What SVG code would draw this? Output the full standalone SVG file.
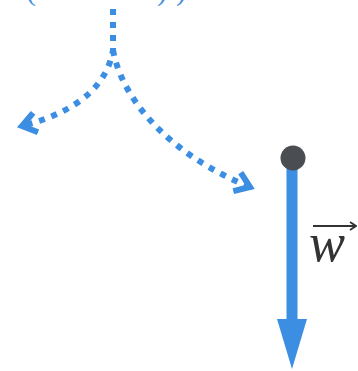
<svg xmlns="http://www.w3.org/2000/svg" width="358" height="371" viewBox="0 0 358 371">
  <defs>
    <style>
      .dots { fill: none; stroke: #3b8ee2; stroke-width: 6; stroke-dasharray: 6 7; }
      .paren { font-family: "Liberation Serif", serif; font-size: 30px; fill: #4a90d9; }
      .label { font-family: "Liberation Serif", serif; font-style: italic; font-size: 54px; fill: #333333; }
    </style>
    <marker id="chev" viewBox="0 0 24 24" refX="19" refY="12" markerWidth="24" markerHeight="24" markerUnits="userSpaceOnUse" orient="auto">
      <path d="M5,2 L19,12 L5,22" fill="none" stroke="#3b8ee2" stroke-width="6" stroke-linejoin="miter"/>
    </marker>
    <marker id="tiny" viewBox="0 0 10 10" refX="9" refY="5" markerWidth="10" markerHeight="10" markerUnits="userSpaceOnUse" orient="auto">
      <path d="M3,1 L9,5 L3,9" fill="none" stroke="#333333" stroke-width="1.8"/>
    </marker>
  </defs>
  <rect width="358" height="371" fill="#ffffff"/>
  <g id="top-label">
    <text class="paren" x="26" y="0">(</text>
    <text class="paren" x="157" y="0">)</text>
    <text class="paren" x="176" y="0">)</text>
  </g>
  <g id="connectors">
    <path class="dots" d="M113,9 L113,50 C108,80 85,110 22,126" marker-end="url(#chev)"/>
    <path class="dots" d="M113,50 C122,100 170,155 250,187" marker-end="url(#chev)"/>
  </g>
  <g id="weight-vector">
    <line x1="292" y1="160" x2="292" y2="322" stroke="#3b8ee2" stroke-width="11"/>
    <polygon points="277,319 307,319 292,369" fill="#3b8ee2"/>
    <circle cx="293" cy="158" r="12.5" fill="#4a4d52"/>
  </g>
  <g id="w-label">
    <text class="label" x="309" y="261">w</text>
    <line x1="313" y1="226" x2="356" y2="226" stroke="#333333" stroke-width="2" marker-end="url(#tiny)"/>
  </g>
</svg>
